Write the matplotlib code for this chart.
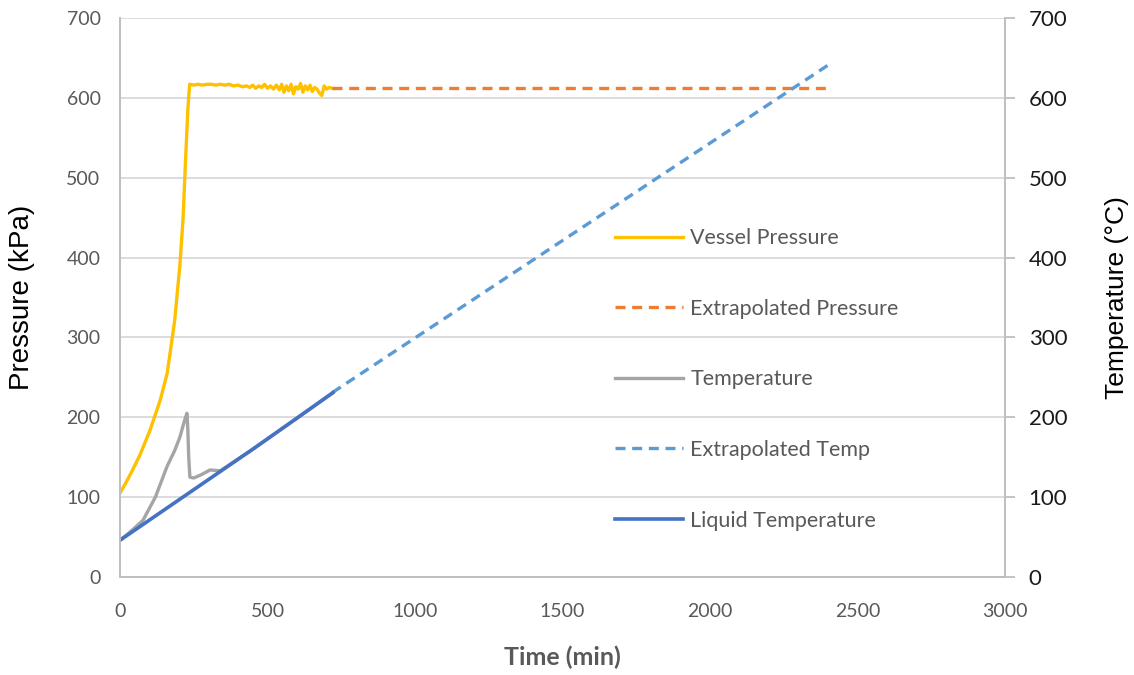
import matplotlib
matplotlib.use("Agg")
import matplotlib.pyplot as plt

# Vessel pressure (kPa) vs time (min)
vp_time = [0, 20, 40, 68, 102, 136, 160, 185, 203, 214, 222, 230, 236,
           250, 265, 280, 295, 310, 325, 340, 355, 370, 385, 400, 415, 430,
           440, 450, 460, 470, 480, 490, 500, 510, 520, 530, 540, 548, 556,
           564, 572, 580, 588, 596, 604, 612, 620, 628, 636, 644, 652, 660,
           668, 676, 684, 692, 700, 710, 720]
vp_kpa = [105, 118, 132, 153, 184, 221, 255, 320, 390, 450, 520, 585, 617,
          616, 617, 616, 617, 617, 616, 617, 616, 617, 615, 616, 614, 615,
          613, 616, 612, 615, 613, 617, 612, 615, 611, 616, 610, 617, 607,
          615, 609, 617, 605, 614, 611, 618, 607, 615, 610, 616, 608, 613,
          611, 606, 603, 615, 611, 613, 612]

# Extrapolated pressure
ep_time = [720, 2400]
ep_kpa = [612, 612]

# Temperature (C)
t_time = [0, 30, 78, 120, 159, 185, 203, 218, 227, 230, 233, 237, 250,
          275, 305, 340, 450, 600, 720]
t_degc = [46, 55, 71, 100, 138, 158, 175, 195, 205, 185, 150, 125, 124,
          128, 134, 133, 160, 199, 230]

# Extrapolated temperature
et_time = [720, 2400]
et_degc = [231, 641]

# Liquid temperature
lt_time = [0, 150, 300, 450, 600, 722]
lt_degc = [46, 84, 122, 160, 199, 231]

fig = plt.figure(figsize=(11.34, 6.75), dpi=100)
ax = fig.add_axes([0.1058, 0.1452, 0.7805, 0.8281])
ax2 = ax.twinx()

grid_c = "#d9d9d9"
spine_c = "#bfbfbf"
tick_c = "#595959"
font = "Lato"

l1, = ax.plot(vp_time, vp_kpa, color="#FFC000", lw=2.4, label="Vessel Pressure")
l2, = ax.plot(ep_time, ep_kpa, color="#ED7D31", lw=2.4, ls=(0, (3, 2)),
              label="Extrapolated Pressure")
l3, = ax2.plot(t_time, t_degc, color="#A5A5A5", lw=2.4, label="Temperature")
l4, = ax2.plot(et_time, et_degc, color="#5B9BD5", lw=2.4, ls=(0, (3, 2)),
               label="Extrapolated Temp")
l5, = ax2.plot(lt_time, lt_degc, color="#4472C4", lw=2.6,
               label="Liquid Temperature")

for a in (ax, ax2):
    a.set_xlim(0, 3000)
    a.set_ylim(0, 700)
    a.set_yticks(range(0, 701, 100))
    a.spines["top"].set_visible(False)
    for s in ("left", "right", "bottom"):
        a.spines[s].set_color(spine_c)
        a.spines[s].set_linewidth(1.3)

ax.set_xticks(range(0, 3001, 500))
ax.yaxis.grid(True, color=grid_c, lw=1.3)
ax.set_axisbelow(True)
ax.tick_params(axis="y", length=0, pad=14, labelsize=14, labelcolor=tick_c)
ax.tick_params(axis="x", length=0, pad=19, labelsize=14, labelcolor=tick_c)
ax2.tick_params(axis="y", length=7, color=spine_c, width=1.3, pad=10,
                labelsize=16, labelcolor="#1a1a1a")
for lab in ax.get_xticklabels() + ax.get_yticklabels() + ax2.get_yticklabels():
    lab.set_fontfamily(font)

ax.set_xlabel("Time (min)", fontsize=18, fontweight="bold", color=tick_c,
              fontfamily=font, labelpad=18)
ax.set_ylabel("Pressure (kPa)", fontsize=20, color="black",
              fontfamily="Liberation Sans", va="center")
ax.yaxis.set_label_coords(-0.111, 0.5)
ax2.set_ylabel("Temperature (\u00b0C)", fontsize=19, color="black",
               fontfamily="Liberation Sans", va="center")
ax2.yaxis.set_label_coords(1.127, 0.5)

leg = ax.legend(handles=[l1, l2, l3, l4, l5], loc="center left",
                bbox_to_anchor=(0.5423, 0.438), bbox_transform=fig.transFigure,
                frameon=False, borderpad=0, borderaxespad=0,
                labelspacing=2.35, handlelength=3.15, handletextpad=0.35,
                prop={"family": font, "size": 15.5})
for txt in leg.get_texts():
    txt.set_color(tick_c)

fig.savefig("out.png", dpi=100)
